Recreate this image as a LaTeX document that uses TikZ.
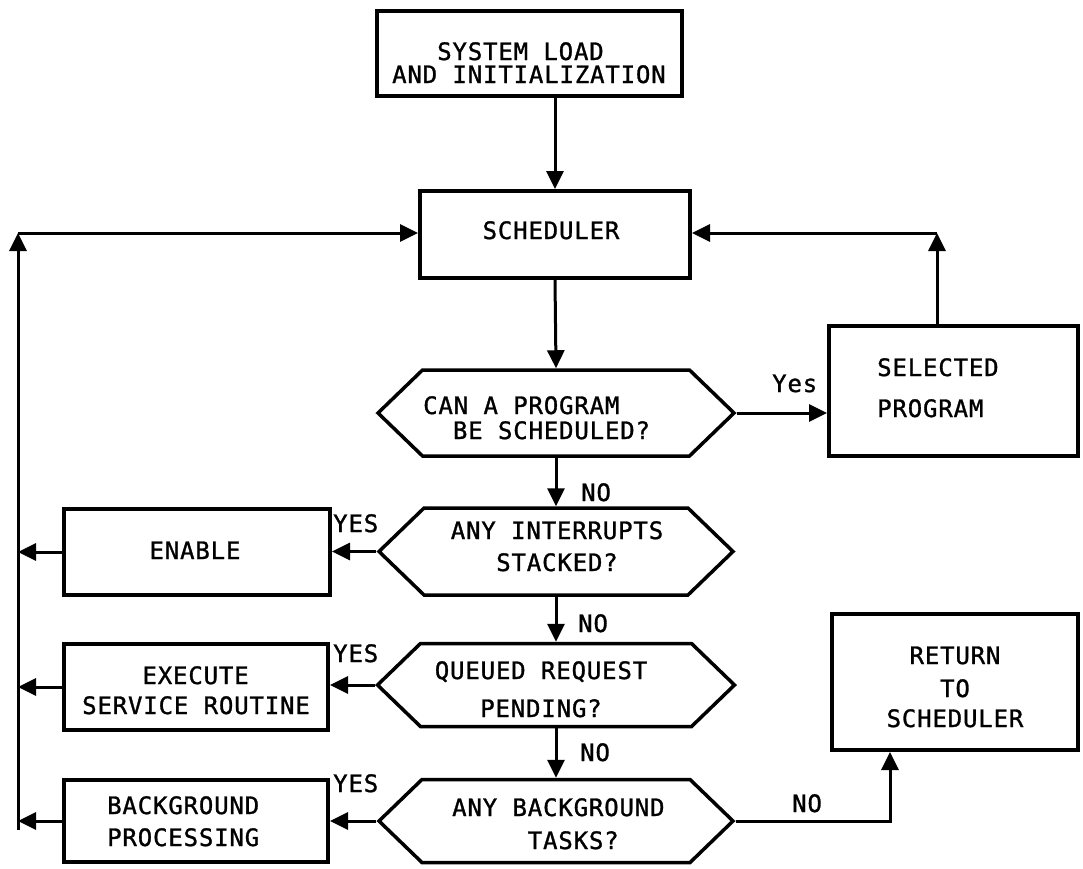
\documentclass[tikz,border=0pt]{standalone}
\usepackage{fontspec}
\usetikzlibrary{arrows.meta,shapes.symbols}
\newfontfamily\lbl[LetterSpace=3.5,FakeBold=1.2]{DejaVu Sans Mono}
\tikzset{
  box/.style={draw, line width=4pt, inner sep=0pt},
  hexa/.style={signal, signal to=west and east, signal pointer angle=88,
    draw, line width=3.5pt, inner sep=0pt},
  arr/.style={line width=3pt, -{Triangle[length=18pt,width=17pt]}},
  txt/.style={inner sep=0pt, font=\lbl\fontsize{24}{#1}\selectfont},
  txt/.default=32
}
\begin{document}
\begin{tikzpicture}[x=1pt,y=-1pt]
\useasboundingbox (0,0) rectangle (1083,868);

% process boxes
\node[box, minimum width=305pt, minimum height=85pt]  (init)  at (529.5,53.5) {};
\node[box, minimum width=270pt, minimum height=87pt]  (sched) at (555,234.5) {};
\node[box, minimum width=249pt, minimum height=130pt] (sel)   at (953.5,391) {};
\node[box, minimum width=266pt, minimum height=86pt]  (enab)  at (197,552) {};
\node[box, minimum width=264pt, minimum height=86pt]  (exec)  at (196,687) {};
\node[box, minimum width=264pt, minimum height=82pt]  (bgp)   at (196,821) {};
\node[box, minimum width=246pt, minimum height=136pt] (ret)   at (955,682) {};

% decision hexagons
\node[hexa, minimum width=356pt, minimum height=86pt] (q1) at (556,413) {};
\node[hexa, minimum width=354pt, minimum height=87pt] (q2) at (556,551.5) {};
\node[hexa, minimum width=357pt, minimum height=83pt] (q3) at (556,685) {};
\node[hexa, minimum width=354pt, minimum height=83pt] (q4) at (556,821) {};

% box and decision texts (anchored on the baseline of the last line)
\node[txt=23, align=left, anchor=base west] (t-init) at (392,83)
  {\phantom{XXX}SYSTEM LOAD\\AND INITIALIZATION};
\node[txt, anchor=base] (t-sched) at (551,239) {SCHEDULER};
\node[txt=25, align=left, anchor=base west] (t-q1) at (423,439)
  {CAN A PROGRAM\\\phantom{XX}BE SCHEDULED?};
\node[txt=41, align=left, anchor=base west] (t-sel) at (877,417)
  {SELECTED\\PROGRAM};
\node[txt=32, align=center, anchor=base] (t-q2) at (557,571)
  {ANY INTERRUPTS\\STACKED?};
\node[txt, anchor=base] (t-enab) at (195,559) {ENABLE};
\node[txt=38, align=center, anchor=base] (t-q3) at (541,717)
  {QUEUED REQUEST\\PENDING?};
\node[txt=30, align=left, anchor=base west] (t-exec) at (82,714)
  {\phantom{XXXX}EXECUTE\\SERVICE ROUTINE};
\node[txt=33, align=left, anchor=base west] (t-q4) at (452,849)
  {ANY BACKGROUND\\\phantom{XXXXX}TASKS?};
\node[txt=32, align=left, anchor=base west] (t-bgp) at (107,846)
  {BACKGROUND\\PROCESSING};
\node[txt=33, align=center, anchor=base] (t-ret) at (955,727)
  {RETURN\\TO\\[-3pt]SCHEDULER};

% branch labels
\node[txt, anchor=base west] (l-yes)  at (772,392) {Yes};
\node[txt, anchor=base west] (l-no1)  at (581,501) {NO};
\node[txt, anchor=base west] (l-no2)  at (578,632) {NO};
\node[txt, anchor=base west] (l-no3)  at (580,761) {NO};
\node[txt, anchor=base west] (l-no4)  at (792,812) {NO};
\node[txt, anchor=base west] (l-yes2) at (333,532) {YES};
\node[txt, anchor=base west] (l-yes3) at (333,662) {YES};
\node[txt, anchor=base west] (l-yes4) at (333,792) {YES};

% return paths
\coordinate (ltop) at (18,233);
\coordinate (lbot) at (18,830);
\coordinate (rtop) at (937,233);
\coordinate (rin)  at (890,752);

% main flow
\draw[arr] (init.south -| sched.north) -- (sched.north);
\draw[arr] (sched.south) -- (q1.north);
\draw[arr] (q1.south) -- (q2.north);
\draw[arr] (q2.south) -- (q3.north);
\draw[arr] (q3.south) -- (q4.north);

% yes branches
\draw[arr] (q1.east) -- (q1.east -| sel.west);
\draw[arr] (q2.west) -- (q2.west -| enab.east);
\draw[arr] (q3.west) -- (q3.west -| exec.east);
\draw[arr] (q4.west) -- (q4.west -| bgp.east);
\draw[arr] (q4.east) -| (rin);

% back to the scheduler
\draw[arr] (enab.west) -- (enab.west -| ltop);
\draw[arr] (exec.west) -- (exec.west -| ltop);
\draw[arr] (bgp.west) -- (bgp.west -| ltop);
\draw[arr] (lbot) -- (ltop);
\draw[arr] (ltop) -- (ltop -| sched.west);
\draw[arr] (sel.north -| rtop) -- (rtop);
\draw[arr] (rtop) -- (rtop -| sched.east);
\end{tikzpicture}
\end{document}
